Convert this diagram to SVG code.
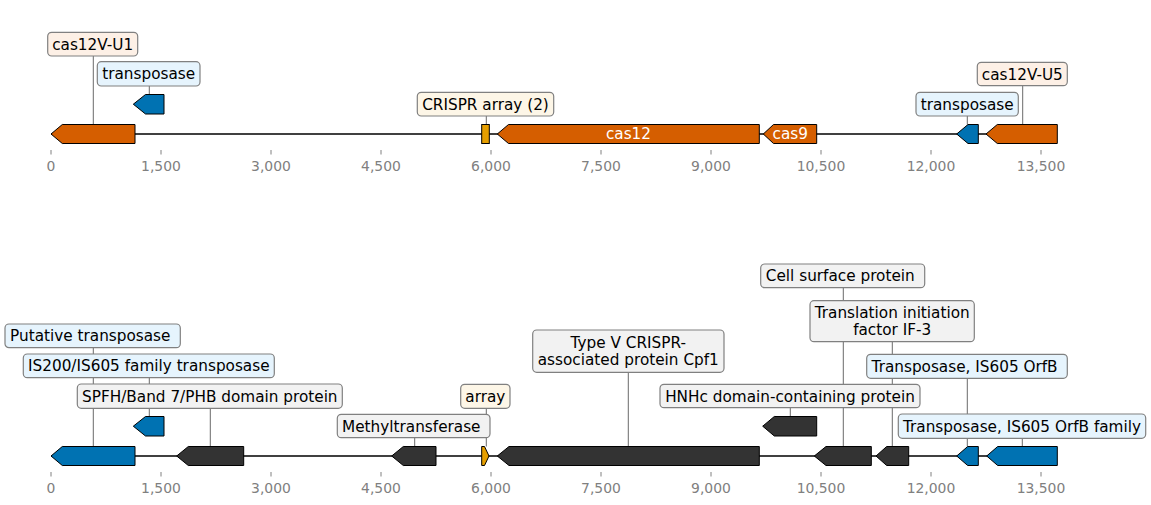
<svg xmlns="http://www.w3.org/2000/svg" width="1151" height="505" viewBox="0 0 1151 505">
<style>
text{font-family:"DejaVu Sans",Verdana,sans-serif}
.lbl{font-size:15.28px;fill:#000;text-anchor:middle}
.in{font-size:15.28px;fill:#fff;text-anchor:middle}
.tk{font-size:13.9px;fill:#808080;text-anchor:middle}
.tick{stroke:#808080;stroke-width:1}
.base{stroke:#000;stroke-width:1.6}
.con{stroke:#444;stroke-width:0.8;fill:none}
.box{stroke:#808080;stroke-width:1.2}
.fo{fill:#fdf0e6}.fb{fill:#e6f4fd}.fy{fill:#fdf6e7}.fg{fill:#f2f2f2}
.or{fill:#D55E00;stroke:#000;stroke-width:1}
.bl{fill:#0072B2;stroke:#000;stroke-width:1}
.ye{fill:#E69F00;stroke:#000;stroke-width:1}
.dk{fill:#333333;stroke:#000;stroke-width:1}
</style>
<rect width="1151" height="505" fill="#fff"/>
<g id="axes">
<line class="base" x1="51" y1="134" x2="1057" y2="134"/>
<line class="base" x1="51" y1="456" x2="1057" y2="456"/>
<g class="tick">
<line x1="51" y1="150" x2="51" y2="154.5"/><line x1="161" y1="150" x2="161" y2="154.5"/><line x1="271" y1="150" x2="271" y2="154.5"/><line x1="381" y1="150" x2="381" y2="154.5"/><line x1="491" y1="150" x2="491" y2="154.5"/><line x1="601" y1="150" x2="601" y2="154.5"/><line x1="711" y1="150" x2="711" y2="154.5"/><line x1="821" y1="150" x2="821" y2="154.5"/><line x1="931" y1="150" x2="931" y2="154.5"/><line x1="1041" y1="150" x2="1041" y2="154.5"/>
<line x1="51" y1="472" x2="51" y2="476.5"/><line x1="161" y1="472" x2="161" y2="476.5"/><line x1="271" y1="472" x2="271" y2="476.5"/><line x1="381" y1="472" x2="381" y2="476.5"/><line x1="491" y1="472" x2="491" y2="476.5"/><line x1="601" y1="472" x2="601" y2="476.5"/><line x1="711" y1="472" x2="711" y2="476.5"/><line x1="821" y1="472" x2="821" y2="476.5"/><line x1="931" y1="472" x2="931" y2="476.5"/><line x1="1041" y1="472" x2="1041" y2="476.5"/>
</g>
<g class="tk">
<text x="51" y="171">0</text><text x="161" y="171">1,500</text><text x="271" y="171">3,000</text><text x="381" y="171">4,500</text><text x="491" y="171">6,000</text><text x="601" y="171">7,500</text><text x="711" y="171">9,000</text><text x="821" y="171">10,500</text><text x="931" y="171">12,000</text><text x="1041" y="171">13,500</text>
<text x="51" y="493">0</text><text x="161" y="493">1,500</text><text x="271" y="493">3,000</text><text x="381" y="493">4,500</text><text x="491" y="493">6,000</text><text x="601" y="493">7,500</text><text x="711" y="493">9,000</text><text x="821" y="493">10,500</text><text x="931" y="493">12,000</text><text x="1041" y="493">13,500</text>
</g>
</g>
<g id="connectors" class="con">
<line x1="93.3" y1="56" x2="93.3" y2="124.5"/>
<line x1="149.3" y1="86" x2="149.3" y2="94.5"/>
<line x1="486.3" y1="116" x2="486.3" y2="124.5"/>
<line x1="967.3" y1="116" x2="967.3" y2="124.5"/>
<line x1="1022.7" y1="85.7" x2="1022.7" y2="124.5"/>
<line x1="93.3" y1="347.7" x2="93.3" y2="446.5"/>
<line x1="149.3" y1="377.7" x2="149.3" y2="416.5"/>
<line x1="210.3" y1="408.3" x2="210.3" y2="446.5"/>
<line x1="414.7" y1="437.7" x2="414.7" y2="446.5"/>
<line x1="486.3" y1="408.3" x2="486.3" y2="446.5"/>
<line x1="628.3" y1="372.3" x2="628.3" y2="446.5"/>
<line x1="790.3" y1="407.7" x2="790.3" y2="416.5"/>
<line x1="843.3" y1="287.7" x2="843.3" y2="446.5"/>
<line x1="892.3" y1="341.7" x2="892.3" y2="446.5"/>
<line x1="967.3" y1="378.3" x2="967.3" y2="446.5"/>
<line x1="1022.3" y1="438.3" x2="1022.3" y2="446.5"/>
</g>
<g id="top-cas12V-U1"><path class="or" d="M51,134 L62.3,124.5 L135,124.5 L135,143.5 L62.3,143.5 Z"/>
<rect class="box fo" x="47.7" y="32.3" width="90" height="23.7" rx="4"/><text class="lbl" x="92.7" y="49.7">cas12V-U1</text></g>
<g id="top-transposase-1"><path class="bl" d="M133.3,104.2 L145.5,94.5 L164,94.5 L164,114 L145.5,114 Z"/>
<rect class="box fb" x="97.3" y="61.7" width="102.7" height="24.3" rx="4"/><text class="lbl" x="148.7" y="79.3">transposase</text></g>
<g id="top-crispr-array"><rect class="ye" x="481.7" y="124.5" width="7.6" height="19"/>
<rect class="box fy" x="417.3" y="92.3" width="136.4" height="23.7" rx="4"/><text class="lbl" x="485.5" y="109.7">CRISPR array (2)</text></g>
<g id="top-cas12"><path class="or" d="M497.3,134 L508.5,124.5 L759.3,124.5 L759.3,143.5 L508.5,143.5 Z"/><text class="in" x="628.5" y="139.3">cas12</text></g>
<g id="top-cas9"><path class="or" d="M763.3,134 L773.5,124.5 L816.7,124.5 L816.7,143.5 L773.5,143.5 Z"/><text class="in" x="790.3" y="139.3">cas9</text></g>
<g id="top-transposase-2"><path class="bl" d="M956.7,134 L968,124.5 L978.3,124.5 L978.3,143.5 L968,143.5 Z"/>
<rect class="box fb" x="916" y="92.3" width="102.3" height="23.7" rx="4"/><text class="lbl" x="967.2" y="109.7">transposase</text></g>
<g id="top-cas12V-U5"><path class="or" d="M986,134 L997.3,124.5 L1057.3,124.5 L1057.3,143.5 L997.3,143.5 Z"/>
<rect class="box fo" x="977.3" y="62.3" width="90" height="23.4" rx="4"/><text class="lbl" x="1022.3" y="79.5">cas12V-U5</text></g>

<g id="bot-putative-transposase"><path class="bl" d="M51,456 L62.3,446.5 L135,446.5 L135,465.5 L62.3,465.5 Z"/>
<rect class="box fb" x="5" y="324" width="175.3" height="23.7" rx="4"/><text class="lbl" x="92.7" y="341.4" xml:space="preserve">Putative transposase </text></g>
<g id="bot-is200"><path class="bl" d="M133.3,426.2 L145.5,416.5 L164,416.5 L164,436 L145.5,436 Z"/>
<rect class="box fb" x="23.3" y="354" width="251" height="23.7" rx="4"/><text class="lbl" x="148.8" y="371.4">IS200/IS605 family transposase</text></g>
<g id="bot-spfh"><path class="dk" d="M176.7,456 L188.3,446.5 L243.7,446.5 L243.7,465.5 L188.3,465.5 Z"/>
<rect class="box fg" x="77.3" y="384" width="265" height="24.3" rx="4"/><text class="lbl" x="209.8" y="401.7">SPFH/Band 7/PHB domain protein</text></g>
<g id="bot-methyltransferase"><path class="dk" d="M391.7,456 L403.3,446.5 L436,446.5 L436,465.5 L403.3,465.5 Z"/>
<rect class="box fg" x="337.3" y="414.3" width="152.7" height="23.4" rx="4"/><text class="lbl" x="413.7" y="431.5" xml:space="preserve">Methyltransferase </text></g>
<g id="bot-array"><path class="ye" d="M481.7,446.5 L484.5,446.5 L489,456 L484.5,465.5 L481.7,465.5 Z"/>
<rect class="box fy" x="460.7" y="384.3" width="49.3" height="24" rx="4"/><text class="lbl" x="485.3" y="401.8">array</text></g>
<g id="bot-cpf1"><path class="dk" d="M497.3,456 L509,446.5 L759.3,446.5 L759.3,465.5 L509,465.5 Z"/>
<rect class="box fg" x="532.7" y="330" width="191.3" height="42.3" rx="4"/><text class="lbl" x="628.3" y="348.3">Type V CRISPR-</text><text class="lbl" x="628.3" y="365">associated protein Cpf1</text></g>
<g id="bot-hnhc"><path class="dk" d="M762.7,426.2 L774.3,416.5 L816.7,416.5 L816.7,436 L774.3,436 Z"/>
<rect class="box fg" x="660" y="384.3" width="260" height="23.4" rx="4"/><text class="lbl" x="790" y="401.5">HNHc domain-containing protein</text></g>
<g id="bot-cell-surface"><path class="dk" d="M814.3,456 L826,446.5 L871.3,446.5 L871.3,465.5 L826,465.5 Z"/>
<rect class="box fg" x="760.7" y="264" width="164" height="23.7" rx="4"/><text class="lbl" x="842.7" y="281.4" xml:space="preserve">Cell surface protein </text></g>
<g id="bot-if3"><path class="dk" d="M876,456 L886.7,446.5 L908.7,446.5 L908.7,465.5 L886.7,465.5 Z"/>
<rect class="box fg" x="810" y="300.7" width="164.3" height="41" rx="4"/><text class="lbl" x="892.2" y="318.3">Translation initiation</text><text class="lbl" x="892.2" y="335">factor IF-3</text></g>
<g id="bot-is605-orfb"><path class="bl" d="M956.7,456 L967.7,446.5 L978.3,446.5 L978.3,465.5 L967.7,465.5 Z"/>
<rect class="box fb" x="866.7" y="354.3" width="200.6" height="24" rx="4"/><text class="lbl" x="967" y="371.8" xml:space="preserve">Transposase, IS605 OrfB </text></g>
<g id="bot-is605-orfb-family"><path class="bl" d="M986.7,456 L997.7,446.5 L1057.3,446.5 L1057.3,465.5 L997.7,465.5 Z"/>
<rect class="box fb" x="898.3" y="414" width="247.4" height="24.3" rx="4"/><text class="lbl" x="1022" y="431.7">Transposase, IS605 OrfB family</text></g>
</svg>
